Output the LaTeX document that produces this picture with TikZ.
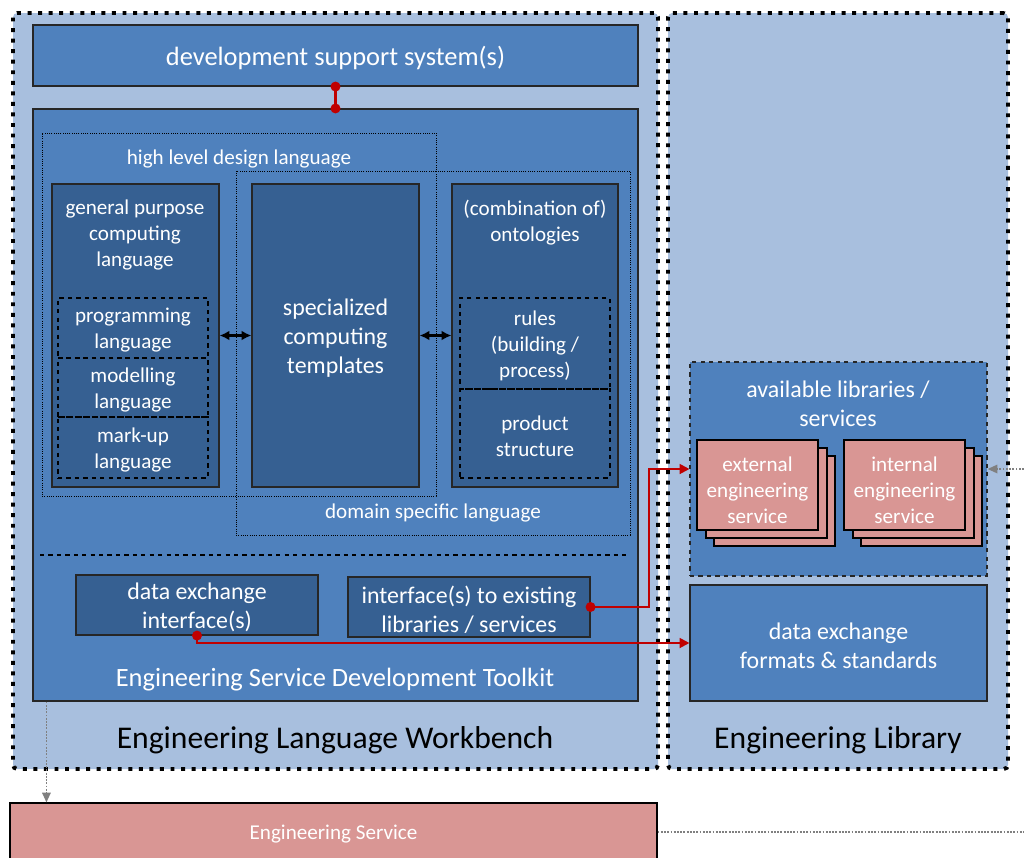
\documentclass[tikz,border=0pt]{standalone}
\usepackage{fontspec}
\setmainfont{Carlito}
\usetikzlibrary{arrows.meta,fit}
\definecolor{lightbg}{RGB}{168,191,222}
\definecolor{midblue}{RGB}{79,129,189}
\definecolor{darkblue}{RGB}{54,96,146}
\definecolor{pinkbox}{RGB}{217,150,148}
\definecolor{redline}{RGB}{192,0,0}
\newcommand{\fsmall}{\fontsize{15}{18.5}\selectfont}
\newcommand{\fmid}{\fontsize{17}{20.6}\selectfont}
\newcommand{\fbig}{\fontsize{18.8}{23}\selectfont}
\newcommand{\fhuge}{\fontsize{22.5}{27}\selectfont}
\tikzset{
  frame/.style={fill=lightbg, draw=black, line width=2.8pt, dash pattern=on 2.8pt off 4.7pt, rounded corners=3pt, inner sep=0pt},
  bluebox/.style={fill=midblue, draw=black!85, line width=0.8pt, inner sep=0pt},
  darkbox/.style={bluebox, fill=darkblue},
  dotbox/.style={draw=black, densely dotted, line width=0.6pt, inner sep=0pt},
  dashbox/.style={draw=black, dashed, line width=0.8pt, inner sep=0pt},
  pinkbx/.style={fill=pinkbox, draw=black, line width=0.8pt, inner sep=0pt},
  txt/.style={text=white, align=center, inner sep=0pt, yshift=-0.06cm},
  redlink/.style={draw=redline, line width=1.5pt},
  greylink/.style={draw=gray, densely dotted, line width=1.3pt, -{Triangle[length=7pt,width=6pt]}},
  twoway/.style={draw, line width=1.6pt, {Latex[length=7pt,width=7pt]}-{Latex[length=7pt,width=7pt]}}
}
\begin{document}
\begin{tikzpicture}[x=0.025cm,y=-0.025cm]
\clip (0,0) rectangle (1024,857);
\fill[white] (0,0) rectangle (1024,857);
\begin{scope}
\node[frame, fit={(13,13) (658,769)}] (elw) {};
\node[frame, fit={(668,13) (1008,769)}] (elib) {};
\node[font=\fhuge, inner sep=0pt] (elwtext) at (335,740) {Engineering Language Workbench};
\node[font=\fhuge, inner sep=0pt] (elibtext) at (838,740) {Engineering Library};
\end{scope}
\begin{scope}
\node[bluebox, fit={(33,25) (638,86)}] (devsys) {};
\node[txt, font=\fbig] (devsystext) at (devsys.center) {development support system(s)};
\node[bluebox, fit={(33,109) (638,701)}] (toolkit) {};
\node[dotbox, fit={(42,133) (436,496)}] (hldl) {};
\node[dotbox, fit={(236,171) (630,535)}] (dsl) {};
\node[txt, font=\fsmall] (hldltext) at (239,157) {high level design language};
\node[txt, font=\fsmall] (dsltext) at (433,511) {domain specific language};
\node[darkbox, fit={(52,184) (219,487)}] (gpl) {};
\node[txt, font=\fsmall] (gpltext) at (135,233) {general purpose\\computing\\language};
\node[dashbox, fit={(58,298) (208,358)}] (proglang) {};
\node[dashbox, fit={(58,358) (208,417)}] (modlang) {};
\node[dashbox, fit={(58,417) (208,478)}] (marklang) {};
\node[txt, font=\fsmall] (progtext) at (proglang.center) {programming\\language};
\node[txt, font=\fsmall] (modtext) at (modlang.center) {modelling\\language};
\node[txt, font=\fsmall] (marktext) at (marklang.center) {mark-up\\language};
\node[darkbox, fit={(252,184) (419,487)}] (sct) {};
\node[txt, font=\fmid] (scttext) at (sct.center) {specialized\\computing\\templates};
\node[darkbox, fit={(452,184) (618,487)}] (onto) {};
\node[txt, font=\fsmall] (ontotext) at (535,220) {(combination of)\\ontologies};
\node[dashbox, fit={(460,298) (610,389)}] (rules) {};
\node[dashbox, fit={(460,389) (610,478)}] (prodstruct) {};
\node[txt, font=\fsmall] (rulestext) at (rules.center) {rules\\(building /\\process)};
\node[txt, font=\fsmall] (prodtext) at (prodstruct.center) {product\\structure};
\path[twoway] (gpl) -- (sct);
\path[twoway] (sct) -- (onto);
\path[draw, dashed, line width=0.8pt] (40,555) -- (630,555);
\node[darkbox, fit={(76,575) (318,635)}] (dxiface) {};
\node[txt, font=\fmid] (dxifacetext) at (dxiface.center) {data exchange\\interface(s)};
\node[darkbox, fit={(348,577) (590,637)}] (libiface) {};
\node[txt, font=\fmid] (libifacetext) at (libiface.center) {interface(s) to existing\\libraries / services};
\node[txt, font=\fbig] (tooltext) at (335,677) {Engineering Service Development Toolkit};
\end{scope}
\begin{scope}
\node[bluebox, dashed, fit={(690,362) (987,576)}] (avail) {};
\node[txt, font=\fmid] (availtext) at (838,401) {available libraries /\\services};
\node[pinkbx, fit={(714,456) (835,546)}] (ext3) {};
\node[pinkbx, fit={(706,448) (827,538)}] (ext2) {};
\node[pinkbx, fit={(697,440) (818,530)}] (extsvc) {};
\node[txt, font=\fsmall] (extsvctext) at ([yshift=-0.08cm]extsvc.center) {external\\engineering\\service};
\node[pinkbx, fit={(861,456) (982,546)}] (int3) {};
\node[pinkbx, fit={(853,448) (974,538)}] (int2) {};
\node[pinkbx, fit={(844,440) (965,530)}] (intsvc) {};
\node[txt, font=\fsmall] (intsvctext) at ([yshift=-0.08cm]intsvc.center) {internal\\engineering\\service};
\node[bluebox, fit={(690,585) (987,701)}] (dxformats) {};
\node[txt, font=\fmid] (dxformatstext) at (dxformats.center) {data exchange\\formats \& standards};
\end{scope}
\node[pinkbx, fit={(10,803) (657,861)}] (engsvc) {};
\node[txt, font=\fsmall] (engsvctext) at (engsvc.center) {Engineering Service};
\path[redlink, {Circle[length=7pt]}-{Circle[length=7pt]}, shorten <=-3.5pt, shorten >=-3.5pt] (devsys.south) -- (toolkit.north);
\path[redlink, {Circle[length=7pt]}-{Triangle[length=7pt,width=7pt]}, shorten <=-3.5pt] (libiface.east) -- ++(58,0) |- (avail.west);
\path[redlink, {Circle[length=7pt]}-{Triangle[length=7pt,width=7pt]}, shorten <=-3.5pt] (dxiface.south) |- (dxformats.west);
\coordinate (libsrc) at (1040,469);
\coordinate (svcout) at (1040,832);
\coordinate (tkdrop) at ([xshift=0.35cm]toolkit.south west);
\path[greylink] (libsrc) -- (avail.east);
\path[greylink] (tkdrop) -- (tkdrop |- engsvc.north);
\path[draw=gray, densely dotted, line width=1.3pt] (engsvc.east) -- (svcout);
\end{tikzpicture}
\end{document}
